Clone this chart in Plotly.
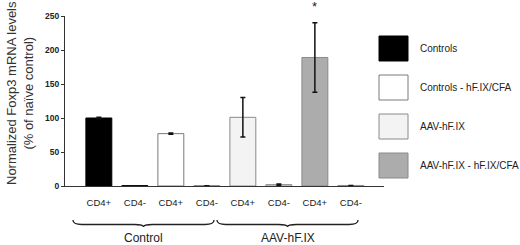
import plotly.graph_objects as go

# ---- data ----
series = ["Controls", "Controls - hF.IX/CFA", "AAV-hF.IX", "AAV-hF.IX - hF.IX/CFA"]
cell_types = ["CD4+", "CD4-"]
values = {
    "Controls": [100, 0.5],
    "Controls - hF.IX/CFA": [77, 0.3],
    "AAV-hF.IX": [101, 2],
    "AAV-hF.IX - hF.IX/CFA": [189, 0.8],
}
errors = {
    "Controls": [1, 0],
    "Controls - hF.IX/CFA": [1, 0],
    "AAV-hF.IX": [29, 0.8],
    "AAV-hF.IX - hF.IX/CFA": [51, 0],
}
groups = ["Control", "AAV-hF.IX"]
group_series = {"Control": series[:2], "AAV-hF.IX": series[2:]}
y_ticks = [0, 50, 100, 150, 200, 250]
significant = ("AAV-hF.IX - hF.IX/CFA", "CD4+")

fills = {
    "Controls": "#000000",
    "Controls - hF.IX/CFA": "#ffffff",
    "AAV-hF.IX": "#f3f3f3",
    "AAV-hF.IX - hF.IX/CFA": "#acacac",
}
borders = {
    "Controls": "#000000",
    "Controls - hF.IX/CFA": "#7a7a7a",
    "AAV-hF.IX": "#8a8a8a",
    "AAV-hF.IX - hF.IX/CFA": "#8a8a8a",
}

# figure geometry (pixels)
W, H = 520, 245
L, R, T, B = 65, 136, 16, 59
plot_w = W - L - R
plot_h = H - T - B


def pxx(p):
    return (p - L) / plot_w


def pxy(p):
    return (H - B - p) / plot_h


fig = go.Figure()
positions = {}
k = 0
for s in series:
    xs = []
    for c in cell_types:
        positions[(s, c)] = k
        xs.append(k)
        k += 1
    fig.add_trace(go.Bar(
        x=xs, y=values[s], width=0.72, name=s,
        marker=dict(color=fills[s], line=dict(color=borders[s], width=1)),
        error_y=dict(type="data", array=errors[s], visible=True,
                     color="#111111", thickness=1.5, width=2.5),
        showlegend=False,
    ))

tick_vals = list(range(k))
tick_text = [c for s in series for c in cell_types]

fig.update_layout(
    width=W, height=H,
    margin=dict(l=L, r=R, t=T, b=B),
    plot_bgcolor="white", paper_bgcolor="white",
    barmode="overlay",
    font=dict(family="Liberation Sans, Arial, sans-serif", color="#222222"),
    xaxis=dict(range=[-0.94, 7.92], tickvals=tick_vals, ticktext=tick_text,
               showline=True, linecolor="#333333", linewidth=1,
               ticks="", showgrid=False, zeroline=False,
               tickfont=dict(size=9.5, color="#222222"), ticklabelstandoff=8),
    yaxis=dict(range=[0, 250], tickvals=y_ticks, showline=True,
               linecolor="#333333", linewidth=1, ticks="outside", ticklen=3,
               tickcolor="#333333", showgrid=False, zeroline=False,
               tickfont=dict(size=8.5, color="#222222", weight="bold")),
)

# y-axis title
fig.add_annotation(
    text="Normalized Foxp3 mRNA levels<br>(% of naïve control)",
    xref="paper", yref="paper", x=pxx(20), y=pxy(93),
    textangle=-90, showarrow=False, font=dict(size=13, color="#333333"),
    xanchor="center", yanchor="middle",
)

# significance star
sx = positions[significant]
sv = values[significant[0]][cell_types.index(significant[1])]
se = errors[significant[0]][cell_types.index(significant[1])]
fig.add_annotation(text="*", x=sx, y=sv + se, xref="x", yref="y",
                   showarrow=False, yanchor="bottom", yshift=7,
                   font=dict(size=13, color="#222222"))

# group braces and labels
y_top, y_mid, y_bot = pxy(220), pxy(224.5), pxy(227)
for g in groups:
    xs = [positions[(s, c)] for s in group_series[g] for c in cell_types]
    x0, x1 = min(xs) - 0.72, max(xs) + 0.2
    xc = (x0 + x1) / 2
    d = 0.25
    path = (f"M {x0},{y_top} Q {x0},{y_mid} {x0 + d},{y_mid} "
            f"L {xc - d},{y_mid} Q {xc},{y_mid} {xc},{y_bot} "
            f"Q {xc},{y_mid} {xc + d},{y_mid} "
            f"L {x1 - d},{y_mid} Q {x1},{y_mid} {x1},{y_top}")
    fig.add_shape(type="path", path=path, xref="x", yref="paper",
                  line=dict(color="#222222", width=1.3))
    fig.add_annotation(text=g, x=xc, y=pxy(238), xref="x", yref="paper",
                       showarrow=False, font=dict(size=12, color="#222222"),
                       xanchor="center", yanchor="middle")

# custom legend
box_tops = [36, 75, 114, 153]
for s, top in zip(series, box_tops):
    fig.add_shape(type="rect", xref="paper", yref="paper",
                  x0=pxx(379), x1=pxx(408), y0=pxy(top + 25), y1=pxy(top),
                  fillcolor=fills[s], line=dict(color=borders[s], width=1))
    fig.add_annotation(text=s, xref="paper", yref="paper",
                       x=pxx(418), y=pxy(top + 12.5), showarrow=False,
                       xanchor="left", yanchor="middle",
                       font=dict(size=10, color="#222222"))

fig.write_html(
    "out.html",
    config={"displayModeBar": False},
    post_script="document.body.style.margin='0';document.body.style.overflow='hidden';",
)
